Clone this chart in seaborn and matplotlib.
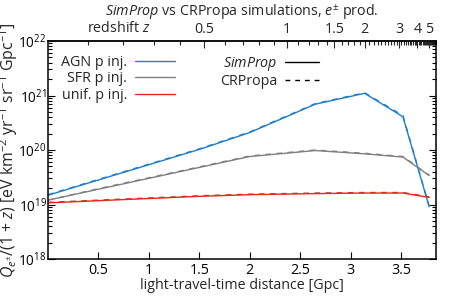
import numpy as np
import pandas as pd
import seaborn as sns
import matplotlib.pyplot as plt
from matplotlib.lines import Line2D
from matplotlib.ticker import FixedLocator, NullFormatter

# light-travel-time distance [Gpc] and log10 of Q/(1+z)
dist = [0.0, 0.5, 1.0, 1.5, 2.0, 2.65, 3.14, 3.52, 3.78]
agn_simprop = [19.17, 19.45, 19.73, 20.01, 20.32, 20.84, 21.04, 20.61, 18.96]
sfr_simprop = [19.08, 19.28, 19.48, 19.68, 19.88, 19.99, 19.93, 19.87, 19.53]
unif_simprop = [19.03, 19.07, 19.11, 19.15, 19.18, 19.20, 19.21, 19.21, 19.13]
agn_crpropa = [19.18, 19.46, 19.74, 20.02, 20.33, 20.85, 21.05, 20.63, 18.97]
sfr_crpropa = [19.08, 19.29, 19.49, 19.69, 19.89, 20.00, 19.94, 19.88, 19.54]
unif_crpropa = [19.04, 19.08, 19.12, 19.16, 19.19, 19.21, 19.22, 19.22, 19.14]

labels = ['AGN p inj.', 'SFR p inj.', 'unif. p inj.']
colors = ['#1f7fc8', '#808080', '#e8281e']
z_major = [0.5, 1, 1.5, 2, 3, 4, 5]

# flat LCDM, H0=70, Om=0.3 -> light-travel distance
zg = np.linspace(0, 20, 20001)
Ez = np.sqrt(0.3 * (1 + zg) ** 3 + 0.7)
f = 1.0 / ((1 + zg) * Ez)
dg = np.concatenate([[0], np.cumsum(0.5 * (f[1:] + f[:-1]) * np.diff(zg))]) * 299792.458 / 70 / 1000


def d2z(d):
    return np.interp(d, dg, zg)


def z2d(z):
    return np.interp(z, zg, dg)


sns.set_style('ticks')
plt.rcParams['font.family'] = ['Open Sans', 'DejaVu Sans']
plt.rcParams['mathtext.fontset'] = 'custom'
plt.rcParams['mathtext.rm'] = 'Open Sans'
plt.rcParams['mathtext.it'] = 'Open Sans:italic'
plt.rcParams['font.size'] = 10.3

fig = plt.figure(figsize=(4.5, 3), dpi=100)
ax = fig.add_axes([48 / 450, 41 / 300, 388 / 450, 218 / 300])

series = [(agn_simprop, agn_crpropa), (sfr_simprop, sfr_crpropa), (unif_simprop, unif_crpropa)]
for (sp, cr), c in zip(series, colors):
    sns.lineplot(x=dist, y=10 ** np.array(sp), color=c, lw=1.0, ax=ax, estimator=None, sort=False)
    sns.lineplot(x=dist, y=10 ** np.array(cr), color=c, lw=1.0, ax=ax, estimator=None, sort=False,
                 linestyle=(0, (4, 4)))

ax.set_yscale('log')
ax.set_ylim(1e18, 1e22)
ax.set_xlim(0, z2d(6))
ax.set_xticks([0.5, 1, 1.5, 2, 2.5, 3, 3.5])
ax.set_xticklabels(['0.5', '1', '1.5', '2', '2.5', '3', '3.5'])
ax.tick_params(which='both', direction='in', right=True, top=False, colors='black', width=0.8)
ax.tick_params(which='major', length=5, pad=3)
ax.tick_params(axis='y', which='major', pad=1, labelsize=9.8)
ax.tick_params(which='minor', length=3)
for s in ax.spines.values():
    s.set_linewidth(1.1)
    s.set_color('black')

ax.set_xlabel('light-travel-time distance [Gpc]', labelpad=0)
ax.set_ylabel(r'$Q_{e^{\pm}}$/(1 + $z$) [eV km$^{-2}$ yr$^{-1}$ sr$^{-1}$ Gpc$^{-1}$]', fontsize=11.4)
ax.yaxis.set_label_coords(-0.071, 0.5)

sec = ax.secondary_xaxis('top', functions=(d2z, z2d))
sec.xaxis.set_major_locator(FixedLocator(z_major))
sec.set_xticklabels(['0.5', '1', '1.5', '2', '3', '4', '5'])
minors = [round(v, 1) for v in np.arange(0.1, 6.01, 0.1) if round(v, 1) not in z_major]
sec.xaxis.set_minor_locator(FixedLocator(minors))
sec.xaxis.set_minor_formatter(NullFormatter())
sec.tick_params(which='both', direction='in', width=0.8)
sec.tick_params(which='major', length=5, pad=3)
sec.tick_params(which='minor', length=3)
sec.spines['top'].set_linewidth(1.1)
ax.text(0.263, 1.058, 'redshift $z$', transform=ax.transAxes, ha='right', va='center')

ax.set_title(r'$\it{SimProp}$ vs CRPropa simulations, $e^{\pm}$ prod.', fontsize=10.3, y=1.115, pad=0)

h1 = [Line2D([], [], color=c, lw=1.0) for c in colors]
leg1 = ax.legend(h1, labels, loc='upper left', bbox_to_anchor=(0.034, 0.938), frameon=False,
                 markerfirst=False, handlelength=2.8, handletextpad=0.55, labelspacing=0.12,
                 borderaxespad=0, borderpad=0)
ax.add_artist(leg1)
h2 = [Line2D([], [], color='black', lw=1.0), Line2D([], [], color='black', lw=1.0, linestyle=(0, (3.5, 3.5)))]
ax.legend(h2, ['$\\it{SimProp}$', 'CRPropa'], loc='upper left', bbox_to_anchor=(0.443, 0.938),
          frameon=False, markerfirst=False, handlelength=2.4, handletextpad=0.55, labelspacing=0.12,
          borderaxespad=0, borderpad=0)

fig.savefig('out.png', dpi=100)
